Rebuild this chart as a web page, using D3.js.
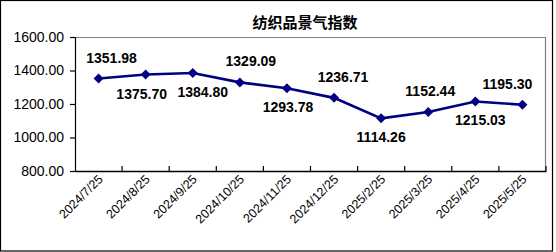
<!DOCTYPE html>
<html>
<head>
<meta charset="utf-8">
<script src="https://cdn.jsdelivr.net/npm/d3@7/dist/d3.min.js"></script>
<style>
  body { margin: 0; background: #fff; }
  svg { display: block; font-family: "Liberation Sans", Arial, sans-serif; }
</style>
</head>
<body>
<div id="chart"></div>
<script>
// data
const dates = ["2024/7/25", "2024/8/25", "2024/9/25", "2024/10/25", "2024/11/25",
  "2024/12/25", "2025/2/25", "2025/3/25", "2025/4/25", "2025/5/25"]
const values = [1351.98, 1375.70, 1384.80, 1329.09, 1293.78, 1236.71, 1114.26, 1152.44, 1215.03, 1195.30]
const yTicks = [800, 1000, 1200, 1400, 1600]

// label placement: -1 above the point, 1 below, plus a small sideways nudge
const labelSide = [-1, 1, 1, -1, 1, -1, 1, -1, 1, -1]
const labelShift = [13, -4, 10, 11, 1, 9, 0, 2, 5, -15]

const W = 556, H = 252
const margin = {top: 37, right: 10, bottom: 81, left: 75}
const width = W - margin.left - margin.right
const height = H - margin.top - margin.bottom

const svg = d3.select("#chart").append("svg")
    .attr("width", W)
    .attr("height", H)

// outer border
svg.append("rect")
    .attr("x", 0.5).attr("y", 0.5)
    .attr("width", 552).attr("height", 250.5)
    .attr("fill", "none").attr("stroke", "#000").attr("stroke-width", 1.2)

svg.append("text")
    .attr("x", 305).attr("y", 28)
    .attr("text-anchor", "middle")
    .style("font-family", "'Noto Sans CJK SC', sans-serif")
    .style("font-weight", "bold")
    .style("font-size", "15px")
    .text("纺织品景气指数")

const g = svg.append("g")
    .attr("transform", "translate(" + margin.left + "," + margin.top + ")")

const x = d3.scaleBand().domain(dates).range([0, width])
const y = d3.scaleLinear().domain([800, 1600]).range([height, 0])

// plot frame (grey top and right)
g.append("path")
    .attr("d", "M0,0.5H" + (width - 0.5) + "V" + height)
    .attr("fill", "none").attr("stroke", "#808080").attr("stroke-width", 1.2)

// y axis
const yAxis = d3.axisLeft(y).tickValues(yTicks).tickSize(5).tickPadding(6)
    .tickFormat(d3.format(".2f"))
const yg = g.append("g").call(yAxis)
yg.select(".domain").attr("stroke", "#000").attr("stroke-width", 1.2)
yg.selectAll("line").attr("stroke", "#000").attr("stroke-width", 1.2)
yg.selectAll("text").style("font-size", "14px").attr("fill", "#000")

// x axis: labels at category centre, ticks between categories pointing up
const xAxis = d3.axisBottom(x).tickSize(0).tickPadding(0)
const xg = g.append("g").attr("transform", "translate(0," + height + ")").call(xAxis)
xg.select(".domain").attr("stroke", "#000").attr("stroke-width", 1.5)
xg.selectAll("text")
    .style("font-size", "12.5px")
    .attr("fill", "#000")
    .attr("text-anchor", "end")
    .attr("dy", null)
    .attr("y", 0)
    .attr("transform", "translate(5,9) rotate(-45)")

xg.selectAll(".bound")
    .data(dates.slice(1).concat(["end"]))
    .enter().append("line")
    .attr("class", "bound")
    .attr("x1", (d, i) => x(dates[0]) + x.step() * (i + 1))
    .attr("x2", (d, i) => x(dates[0]) + x.step() * (i + 1))
    .attr("y1", 0).attr("y2", -5)
    .attr("stroke", "#000").attr("stroke-width", 1.2)

const cx = (d, i) => x(dates[i]) + x.bandwidth() / 2

const line = d3.line()
    .x((d, i) => cx(d, i))
    .y(d => y(d))

g.append("path")
    .datum(values)
    .attr("d", line)
    .attr("fill", "none")
    .attr("stroke", "#000080")
    .attr("stroke-width", 2.6)

// diamond markers
const diamond = d3.symbol().type(d3.symbolSquare).size(50)
g.selectAll(".pt")
    .data(values)
    .enter().append("path")
    .attr("class", "pt")
    .attr("d", diamond)
    .attr("transform", (d, i) => "translate(" + cx(d, i) + "," + y(d) + ") rotate(45)")
    .attr("fill", "#000080")

g.selectAll(".lbl")
    .data(values)
    .enter().append("text")
    .attr("class", "lbl")
    .attr("x", (d, i) => cx(d, i) + labelShift[i])
    .attr("y", (d, i) => y(d) + (labelSide[i] < 0 ? -16 : 24))
    .attr("text-anchor", "middle")
    .style("font-size", "14px")
    .style("font-weight", "bold")
    .attr("fill", "#000")
    .text(d => d.toFixed(2))
</script>
</body>
</html>
